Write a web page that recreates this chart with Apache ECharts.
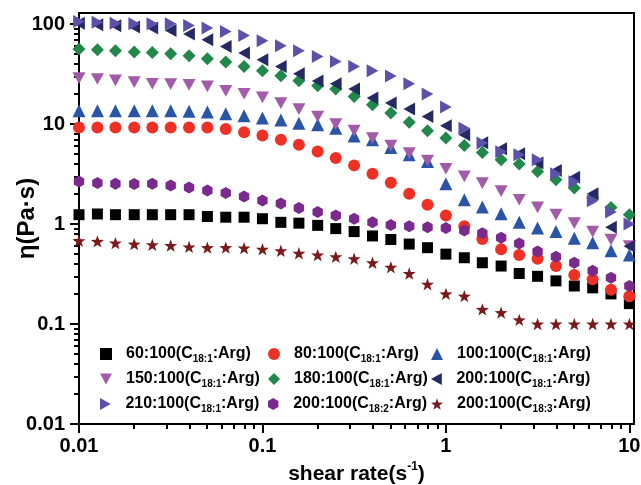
<!DOCTYPE html>
<html><head><meta charset="utf-8">
<script src="https://cdn.jsdelivr.net/npm/echarts@6/dist/echarts.min.js"></script>
<style>html,body{margin:0;padding:0;background:#fff}#c{width:641px;height:485px}</style>
</head><body><div id="c"></div>
<script>
// ---- data ----
const shearRate = [0.01,0.0126,0.0158,0.02,0.0251,0.0316,0.0398,0.0501,0.0631,0.0794,
  0.1,0.126,0.158,0.2,0.251,0.316,0.398,0.501,0.631,0.794,
  1,1.26,1.58,2,2.51,3.16,3.98,5.01,6.31,7.94,10];
const ratioLabels = ['60:100','80:100','100:100','150:100','180:100','200:100','210:100','200:100','200:100'];
const chainLabels = ['18:1','18:1','18:1','18:1','18:1','18:1','18:1','18:2','18:3'];
const eta60_181  = [1.24,1.26,1.24,1.24,1.24,1.24,1.24,1.19,1.17,1.17,1.13,1.04,1.02,0.97,0.90,0.84,0.76,0.70,0.63,0.58,0.50,0.46,0.41,0.38,0.32,0.30,0.27,0.24,0.23,0.20,0.16];
const eta80_181  = [9.25,9.25,9.25,9.25,9.25,9.25,9.25,9.25,8.9,8.3,7.7,6.97,6.2,5.3,4.57,3.86,3.18,2.59,2.01,1.56,1.22,0.95,0.71,0.56,0.49,0.45,0.38,0.31,0.28,0.22,0.19];
const eta100_181 = [13.6,13.6,13.6,13.6,13.6,13.6,13.4,13.2,12.7,12.1,11.5,11.0,10.2,9.85,9.1,7.6,6.97,5.84,4.93,4.23,2.53,1.75,1.48,1.27,1.04,0.91,0.84,0.72,0.65,0.54,0.49];
const eta150_181 = [28.8,28.2,27.3,26.3,25.3,25.1,24.7,23.8,21.5,20.1,18.5,16.2,14.1,11.9,10,8.6,7.24,6.07,5.13,4.3,3.57,2.99,2.56,2.13,1.75,1.47,1.24,1.02,0.84,0.70,0.60];
const eta180_181 = [56.2,55.3,54.1,52.5,52,50.5,48.2,45,41.7,37.7,34.1,30.4,27.1,24.2,22.4,18.9,15.6,12.9,10.4,8.57,7.24,6.11,5.2,4.4,3.98,3.36,2.77,2.29,1.82,1.46,1.24];
const eta200_181 = [102,98.4,96.1,93.3,91.2,86.3,79.4,69.7,59.8,51.3,43.9,37.6,31.8,27,25.3,22.4,18.2,16.2,14.1,11.9,9.6,7.8,6.5,5.66,5.05,4.07,3.44,2.93,2.01,0.93,0.6];
const eta210_181 = [106,104,102,100.7,100.7,100.7,96.8,91.2,84.4,76.9,68.1,60.7,54.1,47.5,42.3,37.7,34.1,30.2,25.3,20,14.8,9.1,6.46,5.28,4.93,4.4,3.18,2.65,1.71,1.32,1.0];
const eta200_182 = [2.67,2.57,2.53,2.51,2.53,2.43,2.32,2.17,2.04,1.89,1.72,1.6,1.45,1.32,1.22,1.13,1.04,0.98,0.95,0.93,0.91,0.86,0.81,0.73,0.64,0.53,0.47,0.41,0.34,0.29,0.24];
const eta200_183 = [0.68,0.67,0.645,0.63,0.62,0.61,0.59,0.58,0.58,0.575,0.56,0.54,0.51,0.49,0.47,0.45,0.41,0.37,0.32,0.25,0.20,0.19,0.14,0.13,0.11,0.10,0.10,0.10,0.10,0.10,0.10];
const xMajor = [0.01,0.1,1,10];
const yMajor = [0.01,0.1,1,10,100];

// ---- styles ----
const allY = [eta60_181,eta80_181,eta100_181,eta150_181,eta180_181,eta200_181,eta210_181,eta200_182,eta200_183];
const colors = ['#000000','#ee3124','#2a55a7','#a25ba9','#22874a','#252a62','#5d50a9','#792a8c','#7a1a1c'];
const STAR = 'path://M10,0L12.35,6.76L19.51,6.91L13.8,11.24L15.88,18.09L10,14L4.12,18.09L6.2,11.24L0.49,6.91L7.65,6.76Z';
const HEX = 'path://M5,0L9.33,2.5L9.33,7.5L5,10L0.67,7.5L0.67,2.5Z';
const symbols = ['rect','circle','triangle','path://M0,0L10,0L5,9Z','diamond','path://M9,0L9,10L0,5Z','path://M0,0L0,10L9,5Z',HEX,STAR];
const sizes = [11,12,13,13,13,13,13,12,13];
const names = ratioLabels.map((r,i)=> r + '(C' + chainLabels[i] + ':Arg)');

function minorTicks(lo, hi){
  const out=[];
  for(let e=lo;e<hi;e++){ for(let m=2;m<=9;m++){ out.push(+(m*Math.pow(10,e)).toPrecision(3)); } }
  return out;
}
const XMIN=0.01, XMAX=10.6, YMIN=0.01, YMAX=129;

const chart = echarts.init(document.getElementById('c'), null, {renderer:'canvas'});
const FONT = 'Liberation Sans, Arial, sans-serif';
const legLeft = [100, 268, 431];
const legTop = [346, 371, 396];

function fmt(n){
  const m = n.match(/^(.*\(C)(\d+:\d)(:Arg\))$/);
  return '{g| }{a|'+m[1]+'}{s|'+m[2]+'}{a|'+m[3]+'}';
}

const option = {
  animation:false,
  backgroundColor:'#fff',
  grid:{left:79,right:7,top:13,bottom:61,show:true,borderColor:'#000',borderWidth:2,backgroundColor:'transparent',
        containLabel:false, outerBoundsMode:'none'},
  xAxis:[{
    type:'log', logBase:10, min:XMIN, max:XMAX,
    name:'shear rate(s{sup|-1}{b|)}', nameLocation:'middle', nameGap:28,
    nameTextStyle:{fontFamily:FONT,fontSize:21,fontWeight:'bold',color:'#000',lineHeight:26,
      rich:{sup:{fontFamily:FONT,fontSize:12,fontWeight:'bold',color:'#000',verticalAlign:'top',lineHeight:12},
            b:{fontFamily:FONT,fontSize:21,fontWeight:'bold',color:'#000',lineHeight:26}}},
    axisLine:{show:true,onZero:false,lineStyle:{color:'#000',width:2}},
    axisTick:{show:true,inside:false,length:9,customValues:xMajor,lineStyle:{color:'#000',width:2}},
    axisLabel:{customValues:xMajor,margin:12,fontFamily:FONT,fontSize:20,fontWeight:'bold',color:'#000'},
    splitLine:{show:false}
  },{
    type:'log', logBase:10, min:XMIN, max:XMAX, position:'bottom',
    axisLine:{show:false},
    axisTick:{show:true,inside:false,length:5,customValues:minorTicks(-2,1),lineStyle:{color:'#000',width:2}},
    axisLabel:{show:false}, splitLine:{show:false}
  }],
  yAxis:[{
    type:'log', logBase:10, min:YMIN, max:YMAX,
    name:'η(Pa·s)', nameLocation:'middle', nameGap:40, nameMoveOverlap:false,
    nameTextStyle:{fontFamily:FONT,fontSize:24,fontWeight:'bold',color:'#000'},
    axisLine:{show:true,onZero:false,lineStyle:{color:'#000',width:2}},
    axisTick:{show:true,inside:false,length:9,customValues:yMajor,lineStyle:{color:'#000',width:2}},
    axisLabel:{customValues:yMajor,margin:14,fontFamily:FONT,fontSize:20,fontWeight:'bold',color:'#000'},
    splitLine:{show:false}
  },{
    type:'log', logBase:10, min:YMIN, max:YMAX, position:'left',
    axisLine:{show:false},
    axisTick:{show:true,inside:false,length:5,customValues:minorTicks(-2,3).filter(v=>v<=YMAX),lineStyle:{color:'#000',width:2}},
    axisLabel:{show:false}, splitLine:{show:false}
  }],
  legend: names.map((n,i)=>({
    data:[{name:n, icon:symbols[i]}], left:legLeft[i%3], top:legTop[Math.floor(i/3)], orient:'horizontal',
    itemWidth:12, itemHeight:12, itemGap:0, padding:0, selectedMode:false, symbolKeepAspect:true,
    formatter:fmt,
    textStyle:{fontFamily:FONT,fontSize:16,fontWeight:'bold',color:'#000',
      rich:{g:{width:9,fontSize:16,lineHeight:20},
            a:{fontFamily:FONT,fontSize:16,fontWeight:'bold',color:'#000',lineHeight:20},
            s:{fontFamily:FONT,fontSize:10,fontWeight:'bold',color:'#000',lineHeight:11,verticalAlign:'bottom'}}}
  })),
  series: names.map((n,i)=>({
    name:n, type:'scatter', xAxisIndex:0, yAxisIndex:0,
    symbol:symbols[i], symbolSize:sizes[i], symbolKeepAspect:true,
    itemStyle:{color:colors[i], opacity:1},
    data: shearRate.map((x,k)=>[x, allY[i][k]])
  }))
};
chart.setOption(option);
</script>
</body></html>
